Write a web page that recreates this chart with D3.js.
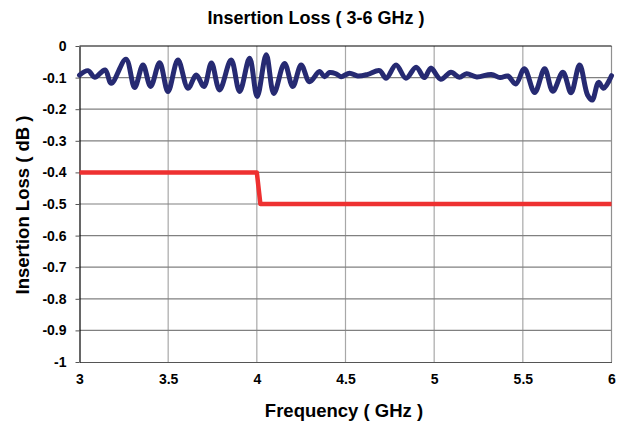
<!DOCTYPE html>
<html lang="en">
<head>
  <meta charset="UTF-8">
  <title>Insertion Loss ( 3-6 GHz )</title>
  <script src="https://d3js.org/d3.v7.min.js"></script>
  <style>
    body {
      margin: 0;
      background: #fff;
      font-family: "Liberation Sans", Arial, sans-serif;
    }
    .tick text {
      font-size: 14px;
      font-weight: bold;
      fill: #000;
    }
    .title {
      font-size: 18px;
      font-weight: bold;
    }
    .axis-title {
      font-size: 18.5px;
      font-weight: bold;
    }
  </style>
</head>
<body>
  <svg width="627" height="427"></svg>

  <script>
    const measuredFreq = [3.00, 3.048, 3.086, 3.144, 3.179, 3.262, 3.311, 3.358, 3.401, 3.452,
      3.499, 3.555, 3.612, 3.658, 3.702, 3.744, 3.790, 3.855, 3.903, 3.959,
      4.002, 4.053, 4.096, 4.156, 4.203, 4.250, 4.297, 4.353, 4.382, 4.410,
      4.447, 4.475, 4.523, 4.569, 4.626, 4.692, 4.729, 4.785, 4.841, 4.898,
      4.945, 4.981, 5.037, 5.095, 5.142, 5.183, 5.240, 5.322, 5.372, 5.415,
      5.460, 5.509, 5.567, 5.623, 5.669, 5.726, 5.772, 5.820, 5.865, 5.891,
      5.927, 5.955, 6.00];
    const measuredLoss = [-0.092, -0.078, -0.099, -0.076, -0.118, -0.042, -0.131, -0.060, -0.128, -0.053,
      -0.144, -0.044, -0.134, -0.092, -0.128, -0.054, -0.139, -0.044, -0.144, -0.039,
      -0.160, -0.028, -0.150, -0.055, -0.128, -0.060, -0.113, -0.081, -0.097, -0.084,
      -0.088, -0.097, -0.086, -0.095, -0.090, -0.078, -0.102, -0.060, -0.102, -0.067,
      -0.100, -0.070, -0.105, -0.083, -0.099, -0.088, -0.098, -0.090, -0.100, -0.095,
      -0.120, -0.072, -0.147, -0.072, -0.143, -0.083, -0.148, -0.060, -0.155, -0.171,
      -0.115, -0.134, -0.094];

    // spec limit (red)
    const limitFreq = [3.0, 4.0, 4.02, 6.0];
    const limitLoss = [-0.4, -0.4, -0.5, -0.5];

    const xTicks = [3, 3.5, 4, 4.5, 5, 5.5, 6];
    const yTicks = [0, -0.1, -0.2, -0.3, -0.4, -0.5, -0.6, -0.7, -0.8, -0.9, -1];

    const svg = d3.select("svg"),
          margin = {top: 46, right: 15.5, bottom: 65, left: 79.5},
          width = +svg.attr("width") - margin.left - margin.right,
          height = +svg.attr("height") - margin.top - margin.bottom,
          chart = svg.append("g").attr("transform", `translate(${margin.left},${margin.top})`);

    const x = d3.scaleLinear().domain([3, 6]).range([0, width]);
    const y = d3.scaleLinear().domain([-1, 0]).range([height, 0]);

    // grid
    chart.append("g")
      .selectAll("line")
      .data(xTicks.slice(1, -1))
      .join("line")
      .attr("x1", d => x(d)).attr("x2", d => x(d))
      .attr("y1", 0).attr("y2", height)
      .attr("stroke", "#a8a8a8")
      .attr("stroke-width", 1.2);

    chart.append("g")
      .selectAll("line")
      .data(yTicks.slice(1, -1))
      .join("line")
      .attr("x1", 0).attr("x2", width)
      .attr("y1", d => y(d)).attr("y2", d => y(d))
      .attr("stroke", "#808080")
      .attr("stroke-width", 1.2);

    // frame: right gray, top black
    chart.append("line")
      .attr("x1", width).attr("x2", width).attr("y1", 0).attr("y2", height)
      .attr("stroke", "#909090").attr("stroke-width", 1.2);
    chart.append("line")
      .attr("x1", 0).attr("x2", width).attr("y1", 0).attr("y2", 0)
      .attr("stroke", "#000").attr("stroke-width", 1.2);

    // axes (plain hyphen for negatives, like the original)
    const fmt = d => String(d);

    const xAxis = chart.append("g")
      .attr("transform", `translate(0,${height})`)
      .call(d3.axisBottom(x).tickValues(xTicks).tickSize(0).tickPadding(12).tickFormat(fmt));
    xAxis.select(".domain").attr("stroke", "#555").attr("stroke-width", 1.2);

    const yAxis = chart.append("g")
      .call(d3.axisLeft(y).tickValues(yTicks).tickSizeInner(4).tickSizeOuter(0).tickPadding(9).tickFormat(fmt));
    yAxis.select(".domain").attr("stroke", "#000").attr("stroke-width", 1.2);
    yAxis.selectAll(".tick line").attr("stroke", "#555");

    // lines
    const limitLine = d3.line()
      .x((d, i) => x(limitFreq[i]))
      .y((d, i) => y(limitLoss[i]));

    chart.append("path")
      .datum(limitFreq)
      .attr("fill", "none")
      .attr("stroke", "#ee3131")
      .attr("stroke-width", 4.5)
      .attr("stroke-linejoin", "round")
      .attr("d", limitLine);

    const measuredLine = d3.line()
      .curve(d3.curveCatmullRom.alpha(0.5))
      .x((d, i) => x(measuredFreq[i]))
      .y((d, i) => y(measuredLoss[i]));

    chart.append("path")
      .datum(measuredFreq)
      .attr("fill", "none")
      .attr("stroke", "#262a72")
      .attr("stroke-width", 5)
      .attr("stroke-linejoin", "round")
      .attr("stroke-linecap", "round")
      .attr("d", measuredLine);

    // titles
    svg.append("text")
      .attr("class", "title")
      .attr("x", 316).attr("y", 24)
      .attr("text-anchor", "middle")
      .text("Insertion Loss ( 3-6 GHz )");

    svg.append("text")
      .attr("class", "axis-title")
      .attr("x", 344).attr("y", 417)
      .attr("text-anchor", "middle")
      .text("Frequency ( GHz )");

    svg.append("text")
      .attr("class", "axis-title")
      .attr("transform", "translate(29,205) rotate(-90)")
      .attr("text-anchor", "middle")
      .text("Insertion Loss ( dB )");
  </script>
</body>
</html>
